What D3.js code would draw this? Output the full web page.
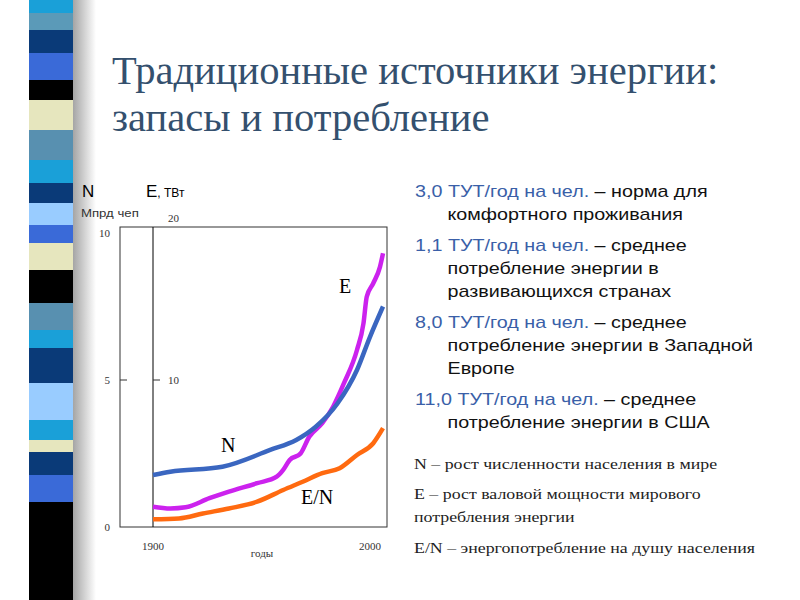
<!DOCTYPE html>
<html><head><meta charset="utf-8">
<script src="https://cdn.jsdelivr.net/npm/d3@7"></script>
<style>body{margin:0;background:#fff}svg{display:block}</style>
</head><body>
<script>
const stripeColors=["#1aa0d8","#5b9ab8","#0a3a78","#3a6ad8","#000","#e6e6be","#5890b0","#1aa0d8","#0a3a78","#99ccff","#3a6ad8","#e6e6be","#000","#5890b0","#1aa0d8","#0a3a78","#99ccff","#1aa0d8","#e6e6be","#0a3a78","#3a6ad8","#000"];
const stripeBreaks=[0,13,30,53,80,100,130,160,183,203,225,243,270,303,330,348,383,420,440,452,475,502,600];
const yearsN=[1900,1908,1932,1954,1966,1975,1985,1994,2000,2006];
const valuesN=[1.77,1.88,2.05,2.62,2.96,3.41,4.2,5.34,6.47,7.5];
const yearsE=[1900,1908,1915,1926,1935,1948,1957,1960,1963,1968,1972,1978,1983,1988,1994,1997,1998.5,2001.5,2004.6,2006];
const valuesE=[1.38,1.26,1.34,1.96,2.4,2.98,3.42,3.88,4.56,5.0,6.14,7.06,8.18,9.78,12.04,13.86,15.66,16.58,17.7,18.62]; // TW
const yearsEN=[1900,1912,1923,1935,1948,1960,1969,1978,1986,1994,2001.5,2006];
const valuesEN=[0.26,0.29,0.46,0.63,0.86,1.26,1.54,1.83,2.0,2.45,2.85,3.36];
const nTicks=[0,5,10], eTicks=[10,20], xTicks=[1900,2000];

const svg=d3.select("body").append("svg").attr("width",800).attr("height",600);
const defs=svg.append("defs");
const g=defs.append("linearGradient").attr("id","sh");
g.append("stop").attr("offset","0").attr("stop-color","#999");
g.append("stop").attr("offset","1").attr("stop-color","#fff");
svg.append("rect").attr("x",70).attr("y",0).attr("width",26).attr("height",600).attr("fill","url(#sh)");
stripeColors.forEach((c,i)=>svg.append("rect").attr("x",29).attr("y",stripeBreaks[i]).attr("width",44)
  .attr("height",stripeBreaks[i+1]-stripeBreaks[i]).attr("fill",c));
const stretch=(sel,x0,s)=>sel.attr("transform",`translate(${x0},0) scale(${s},1) translate(${-x0},0)`);
// title
const t=svg.append("text").attr("font-family","Liberation Serif, Times New Roman, serif").attr("font-size",39).attr("fill","#34506e");
t.append("tspan").attr("x",112).attr("y",84).text("Традиционные источники энергии:");
t.append("tspan").attr("x",112).attr("y",131).text("запасы и потребление");
stretch(t,112,1.04);

const x=d3.scaleLinear().domain([1900,2000]).range([153,370]);
const yN=d3.scaleLinear().domain([0,10]).range([527,233]);
const yE=d3.scaleLinear().domain([0,20]).range([527,233]);
svg.append("rect").attr("x",120).attr("y",227).attr("width",267).attr("height",300).attr("fill","none").attr("stroke","#333").attr("stroke-width",1);
svg.append("line").attr("x1",x(1900)).attr("x2",x(1900)).attr("y1",227).attr("y2",527).attr("stroke","#000");
const sf="Liberation Serif, serif";
nTicks.forEach(v=>{svg.append("text").attr("x",110).attr("y",yN(v)+4).attr("text-anchor","end").attr("font-family",sf).attr("font-size",11).attr("fill","#333").text(v);
  if(v===5) svg.append("line").attr("x1",120).attr("x2",127).attr("y1",yN(v)).attr("y2",yN(v)).attr("stroke","#333");});
eTicks.forEach(v=>{svg.append("text").attr("x",168).attr("y",yE(v)+(v===20?-11:4)).attr("font-family",sf).attr("font-size",11).attr("fill","#333").text(v);
  if(v===10) svg.append("line").attr("x1",153).attr("x2",160).attr("y1",yE(v)).attr("y2",yE(v)).attr("stroke","#333");});
xTicks.forEach(v=>svg.append("text").attr("x",x(v)).attr("y",550).attr("text-anchor","middle").attr("font-family",sf).attr("font-size",11).attr("fill","#333").text(v));
svg.append("text").attr("x",262).attr("y",557).attr("text-anchor","middle").attr("font-family",sf).attr("font-size",11).attr("fill","#333").text("годы");
const sans="Liberation Sans, Arial, sans-serif";
svg.append("text").attr("x",82).attr("y",197).attr("font-family",sans).attr("font-size",17).text("N");
svg.append("text").attr("x",146).attr("y",197).attr("font-family",sans).attr("font-size",17).text("E").append("tspan").attr("font-size",12).text(", ТВт");
stretch(svg.append("text").attr("x",81).attr("y",217).attr("font-family",sans).attr("font-size",11).attr("fill","#333").text("Мпрд чеп"),81,1.2);

const line=(ys,vs,sc)=>d3.line().curve(d3.curveMonotoneX).x((d,i)=>x(ys[i])).y((d,i)=>sc(vs[i]))(vs);
svg.append("path").attr("d",line(yearsEN,valuesEN,yN)).attr("fill","none").attr("stroke","#ff6a10").attr("stroke-width",4.5);
svg.append("path").attr("d",line(yearsE,valuesE,yE)).attr("fill","none").attr("stroke","#cc22ee").attr("stroke-width",4.5);
svg.append("path").attr("d",line(yearsN,valuesN,yN)).attr("fill","none").attr("stroke","#3a66c0").attr("stroke-width",4.5);
svg.append("text").attr("x",339).attr("y",293).attr("font-family",sf).attr("font-size",20).text("E");
svg.append("text").attr("x",221).attr("y",452).attr("font-family",sf).attr("font-size",20).text("N");
svg.append("text").attr("x",301).attr("y",504).attr("font-family",sf).attr("font-size",20).text("E/N");

const notes=[["3,0 ТУТ/год на чел."," – норма для",["комфортного проживания"]],
 ["1,1 ТУТ/год на чел."," – среднее",["потребление энергии в","развивающихся странах"]],
 ["8,0 ТУТ/год на чел."," – среднее",["потребление энергии в Западной","Европе"]],
 ["11,0 ТУТ/год на чел."," – среднее",["потребление энергии в США"]]];
const notesG=svg.append("g");
let yy=197;
notes.forEach(n=>{const tx=notesG.append("text").attr("x",415).attr("y",yy).attr("font-family",sans).attr("font-size",17);
  tx.append("tspan").attr("fill","#3a5fa8").text(n[0]); tx.append("tspan").attr("fill","#111").text(n[1]);
  n[2].forEach(l=>{yy+=23;notesG.append("text").attr("x",443-(443-415)*0).attr("y",yy).attr("font-family",sans).attr("font-size",17).attr("fill","#111").text(l);});
  yy+=31;});
stretch(notesG,415,1.16);
const legend=[["N – рост численности населения  в мире",469],["E – рост валовой мощности мирового",499],["потребления  энергии",522],["E/N – энергопотребление на душу населения",553]];
const legG=svg.append("g");
legend.forEach(l=>legG.append("text").attr("x",414).attr("y",l[1]).attr("font-family",sf).attr("font-size",15).attr("fill","#222").text(l[0]));
stretch(legG,414,1.19);
</script></body></html>
